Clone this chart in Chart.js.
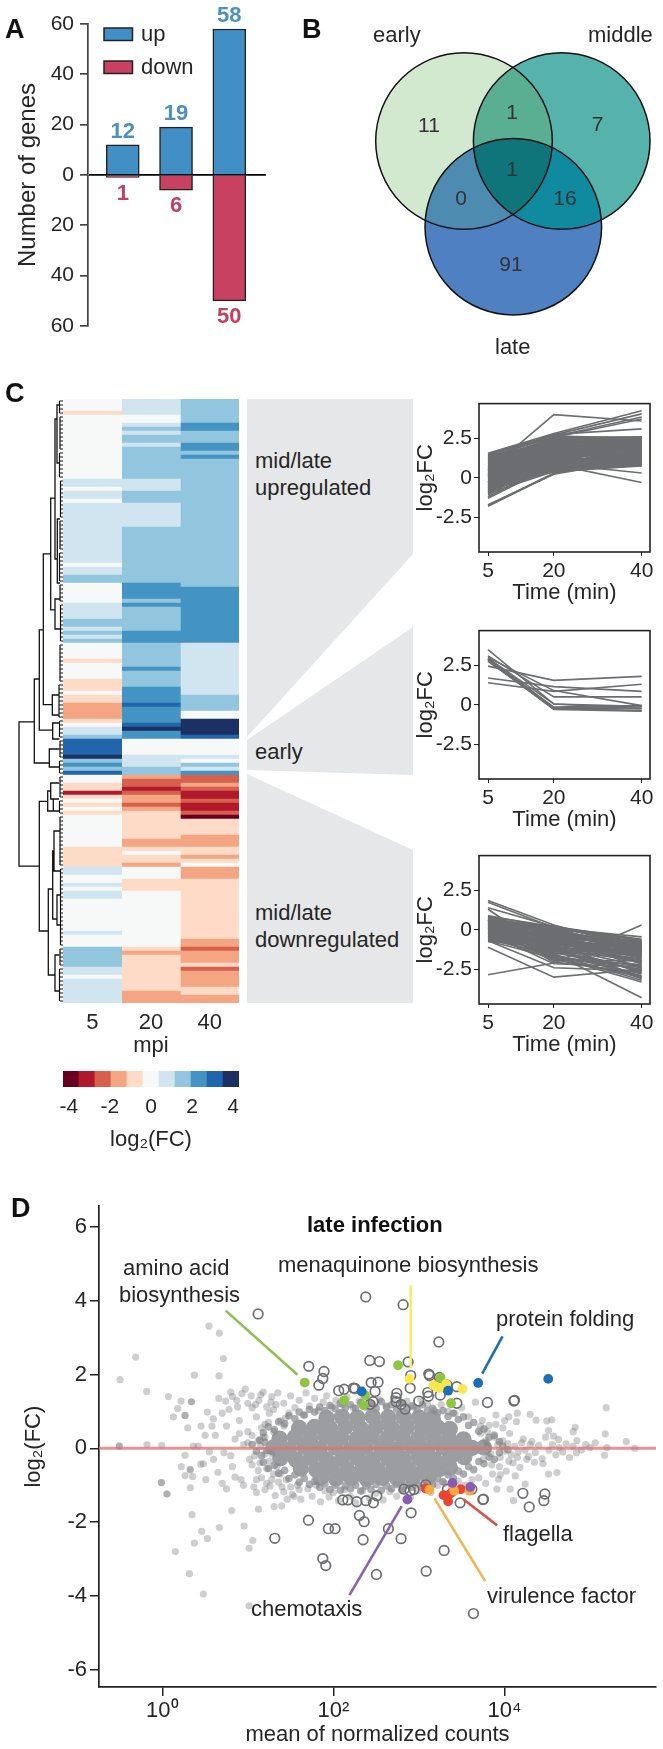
<!DOCTYPE html>
<html>
<head>
<meta charset="utf-8">
<script src="https://cdn.jsdelivr.net/npm/chart.js@4"></script>
<style>
  html, body { margin: 0; background: #fff; }
  #page { position: relative; width: 663px; height: 1749px; overflow: hidden; font-family: "Liberation Sans", Arial, sans-serif; color: #262626; }
  canvas { position: absolute; }
  svg { position: absolute; left: 0; top: 0; }
  .t { position: absolute; white-space: nowrap; font-size: 22px; transform: translateY(-50%); line-height: 1; }
  .p { font-size: 27px; font-weight: bold; color: #111; }
</style>
</head>
<body>
<div id="page">
  <svg width="663" height="1749">
    <polygon fill="#e6e7e8" points="247,399 413,399 413,554 247,737"/>
    <polygon fill="#e6e7e8" points="247,740 413,627 413,775 247,770"/>
    <polygon fill="#e6e7e8" points="247,774 413,850 413,1003 247,1003"/>
  </svg>

  <canvas id="barChart" width="300" height="345" style="left:0;top:0"></canvas>
  <canvas id="venn" width="363" height="370" style="left:300px;top:0"></canvas>
  <canvas id="dendro" width="63" height="604" style="left:0;top:399px"></canvas>
  <canvas id="heat" width="176" height="660" style="left:63px;top:399px"></canvas>
  <canvas id="colorbar" width="200" height="90" style="left:50px;top:1071px"></canvas>
  <canvas id="linesUp" width="253" height="218" style="left:410px;top:389px"></canvas>
  <canvas id="linesEarly" width="253" height="218" style="left:410px;top:616px"></canvas>
  <canvas id="linesDown" width="253" height="218" style="left:410px;top:841px"></canvas>
  <canvas id="ma" width="663" height="559" style="left:0;top:1190px"></canvas>

  <div class="t p" style="left:5px;top:29px">A</div>
  <div class="t p" style="left:302px;top:29px">B</div>
  <div class="t p" style="left:5px;top:393px">C</div>
  <div class="t p" style="left:11px;top:1208px">D</div>

  <svg width="663" height="90" style="pointer-events:none">
    <rect x="104" y="28" width="28.5" height="12.5" fill="#418fc4" stroke="#222" stroke-width="1.5"/>
    <rect x="104" y="61" width="28.5" height="12.5" fill="#c84160" stroke="#222" stroke-width="1.5"/>
  </svg>
  <div class="t" style="left:141px;top:34px">up</div>
  <div class="t" style="left:141px;top:67px">down</div>

  <div class="t" style="left:373px;top:35px">early</div>
  <div class="t" style="left:588px;top:35px">middle</div>
  <div class="t" style="left:495px;top:347px">late</div>

  <div class="t" style="left:255px;top:461px">mid/late</div>
  <div class="t" style="left:255px;top:488px">upregulated</div>
  <div class="t" style="left:255px;top:752px">early</div>
  <div class="t" style="left:255px;top:913px">mid/late</div>
  <div class="t" style="left:255px;top:940px">downregulated</div>

  <div class="t" style="left:307px;top:1225px;font-weight:bold;font-size:22px;color:#111">late infection</div>
  <div class="t" style="left:123px;top:1268px">amino acid</div>
  <div class="t" style="left:119px;top:1295px">biosynthesis</div>
  <div class="t" style="left:278px;top:1265px">menaquinone biosynthesis</div>
  <div class="t" style="left:496px;top:1319px">protein folding</div>
  <div class="t" style="left:503px;top:1534px">flagella</div>
  <div class="t" style="left:487px;top:1596px">virulence factor</div>
  <div class="t" style="left:251px;top:1609px">chemotaxis</div>
</div>

<script>
// Panel A
const barLabels = [0, 1, 2];
const upCounts = [12, 19, 58];
const downCounts = [-1, -6, -50];

// Panel B
const vennNames = ["early", "middle", "late"];
const vennCenters = [[164, 141], [261.7, 141], [213.3, 226.7]];
const vennRadius = [88.3, 88.3, 88.3];
const vennCounts = [11, 1, 7, 1, 0, 16, 91];
const vennCountAt = [[129, 126], [212, 113], [297.7, 125], [212, 170], [161, 199], [265, 199], [211, 265]];

// Panel C heatmap, colour bin per row (-5 .. 5)
const heat5 = [
  0,0,0,-1,0,0,0,0,0,0,
  0,0,0,0,0,0,0,0,0,0,
  1,1,0,1,1,0,1,1,1,1,
  1,1,1,1,1,1,1,1,1,1,
  1,0,1,1,2,2,0,0,0,0,
  0,1,1,1,1,2,2,1,2,1,
  2,0,0,0,0,-1,0,0,0,0,
  -1,-1,-1,0,-1,-1,-2,-2,-2,-2,
  -1,0,1,1,2,4,4,4,4,5,
  2,3,2,4,0,0,-1,-1,-4,-1,
  0,-1,0,-1,0,0,0,0,0,0,
  0,0,-1,-1,-1,-1,-1,1,1,0,
  0,1,0,1,1,0,0,0,0,0,
  0,0,0,1,0,0,0,2,2,2,
  2,2,1,1,0,1,1,1,1,1,
  1
];
const heat20 = [
  1,1,1,1,0,0,1,2,1,2,
  2,1,2,2,2,2,2,2,2,2,
  1,1,1,2,2,2,1,1,1,1,
  1,1,2,2,2,2,2,2,2,2,
  2,2,2,2,2,2,3,3,3,3,
  2,3,2,2,2,2,2,2,3,3,
  3,2,2,2,2,2,2,3,2,2,
  2,2,3,3,3,3,4,3,3,3,
  3,4,5,3,3,0,0,0,0,1,
  1,1,2,2,-2,-3,-3,-4,-3,-2,
  -2,-3,-2,-1,-1,-1,-1,-1,-1,-1,
  -2,-2,-1,0,-1,-1,-2,0,0,0,
  -1,-1,-1,0,0,0,0,0,0,0,
  0,0,0,0,0,0,0,-1,-2,-1,
  -1,-1,-1,-1,-1,-1,-1,-1,-2,-2,
  -2
];
const heat40 = [
  2,2,2,2,2,2,3,3,2,2,
  2,3,3,2,3,2,2,2,2,2,
  2,2,2,2,2,2,2,2,2,2,
  2,2,2,2,2,2,2,2,2,2,
  2,2,2,2,2,2,2,3,3,3,
  3,3,3,3,3,3,3,3,3,3,
  3,1,1,1,1,1,1,1,1,1,
  1,1,1,1,2,2,2,2,0,0,
  5,5,5,5,4,0,0,0,0,1,
  0,2,1,3,-3,-3,-2,-3,-4,-4,
  -3,-4,-4,-3,-5,-1,-1,-1,-1,-2,
  -2,-2,-1,-1,-2,-1,0,-2,-2,-2,
  -1,-1,-1,-1,-1,-1,-1,-1,-1,-1,
  -1,-1,-1,-1,-1,-2,-2,-3,-2,-2,
  -2,-1,-3,-2,-2,-2,-2,-1,-1,-2,
  -2
];
const heatTimes = [5, 20, 40];
const binColors = ["#67001f", "#b2182b", "#d6604d", "#f4a582", "#fddbc7", "#f7f8f8", "#d1e5f0", "#92c5de", "#4393c3", "#2166ac", "#1b3163"];
const colorbarBins = [-3.9, -3.12, -2.34, -1.56, -0.78, 0, 0.78, 1.56, 2.34, 3.12, 3.9];
const colorbarTicks = [-4, -2, 0, 2, 4];

// Dendrogram: [height, top row, bottom row, height of top child, height of bottom child]
const dendroJoins = [
  [19, 80.7, 116.8, 34.3, 39.3],
  [34.3, 70, 91, 39.3, 49.3],
  [39.3, 57.7, 82.8, 43.3, 52.7],
  [43.3, 38.7, 76.4, 50.7, 52.3],
  [50.7, 24.8, 52.7, 55, 55],
  [55, 5, 40, 57, 57.3],
  [57, 1.5, 16, 59.5, 60],
  [57.3, 30, 46, 60, 60],
  [55, 50, 57.5, 60, 60],
  [52.3, 74, 79, 59, 59],
  [52.7, 81, 85, 59.5, 59.5],
  [49.3, 87.5, 92, 59.5, 59.5],
  [39.3, 100.6, 133, 47.7, 48.3],
  [47.7, 98, 103, 50.7, 53.3],
  [50.7, 96, 100, 59, 59],
  [53.3, 100, 103, 59, 59],
  [48.3, 122.5, 144, 52.7, 55],
  [52.7, 113, 130, 54, 57],
  [54, 108, 118, 60, 60],
  [57, 124, 131.5, 60.5, 60.5],
  [55, 139, 148, 59.5, 59.5]
];
// Leaf combs: [height, first row, last row]
const dendroLeaves = [
  [59.5, 0, 3], [60, 4, 12], [59.5, 13, 19], [60.5, 20, 29], [60, 30, 37], [59.5, 38, 45], [60, 46, 50],
  [60.5, 51, 60], [60, 61, 70], [59, 71, 79], [59.5, 80, 84], [60, 85, 89], [59.5, 90, 93], [60, 94, 99],
  [59.5, 100, 103], [60, 104, 116], [60.5, 117, 136], [60, 137, 141], [59.5, 142, 150]
];

// Panel C line plots: [5, 20, 40 min]
const timePoints = [5, 20, 40];
const upLines = [
  [1.55,2.80,4.25],[1.50,2.72,4.05],[1.48,2.62,3.85],[0.45,4.00,3.60],[1.35,2.55,3.72],[1.22,2.75,3.10],
  [-1.80,0.25,2.10],[-1.75,0.30,1.60],[-1.70,0.22,1.20],[-1.30,0.80,1.05],[-1.20,0.88,0.30],[-0.60,0.85,-0.30],
  [-1.05,0.60,0.95],[-0.95,1.00,1.40],[-0.80,0.45,0.85],[-0.65,1.20,1.75],[-0.55,0.70,0.80],[-0.50,1.50,2.05],
  [-0.40,0.95,1.10],[-0.35,1.35,1.55],[-0.25,1.10,2.30],[-0.20,0.50,0.78],[-0.10,1.70,2.15],[-0.05,0.85,1.30],
  [0.00,1.25,1.85],[0.05,1.55,1.45],[0.10,0.40,0.75],[0.12,2.05,2.45],[0.18,1.05,1.05],[0.22,1.80,2.00],
  [0.25,1.35,1.62],[0.30,0.75,0.90],[0.32,2.30,2.55],[0.36,1.60,2.25],[0.40,1.15,1.25],[0.44,1.95,1.75],
  [0.48,0.95,1.50],[0.52,2.15,2.58],[0.55,1.40,1.95],[0.58,1.75,1.15],[0.62,0.60,0.85],[0.65,2.40,2.40],
  [0.68,1.20,1.70],[0.70,1.85,2.10],[0.74,1.50,1.30],[0.78,2.55,2.60],[0.80,1.05,0.95],[0.84,1.65,2.35],
  [0.86,2.25,1.80],[0.90,1.30,1.55],[0.92,1.90,2.50],[0.95,0.80,1.00],[0.98,2.00,1.90],[1.00,1.45,2.20],
  [1.03,2.35,2.05],[1.05,1.10,1.35],[1.08,1.70,1.60],[1.10,2.50,2.45],[1.12,1.55,2.60],[1.15,2.10,1.85],
  [1.18,1.25,1.20],[1.20,1.95,2.30],[1.24,2.45,2.15],[1.28,1.60,1.45],[1.30,2.20,2.55],[1.33,1.85,2.00],
  [1.38,2.30,2.40],[1.42,2.00,1.75],[-0.70,0.65,1.10],[-0.45,1.80,2.40],[-0.30,2.10,2.50],[-0.15,0.35,0.88],
  [-0.85,0.95,1.65],[-0.75,1.35,2.00],[0.15,2.45,2.20],[0.28,0.55,1.15],[0.05,2.20,1.65],[0.60,2.65,2.52],
  [-0.90,0.75,1.20],[-0.82,0.50,1.00],[-0.72,1.05,1.50],[-0.62,0.60,2.20],[-0.52,1.30,0.95],[-0.42,0.75,1.85],
  [-0.32,1.60,1.30],[-0.22,0.90,2.50],[-0.12,1.25,0.85],[-0.02,0.65,1.60],[0.08,1.45,2.40],[0.16,0.70,1.40],
  [0.24,1.90,1.10],[0.34,1.00,2.15],[0.42,2.10,0.95],[0.50,0.85,1.75],[0.56,1.70,2.50],[0.64,1.05,1.25],
  [0.72,2.00,1.50],[0.76,0.70,2.05],[0.82,1.40,0.85],[0.88,2.40,1.95],[0.94,1.15,2.45],[1.02,1.80,1.10],
  [1.06,0.95,1.70],[1.14,2.30,1.30],[1.22,1.35,2.10],[1.26,2.05,0.90],[1.32,1.50,1.85],[1.36,2.60,2.30],
  [1.40,1.75,2.55],[1.45,2.15,1.60],[-1.10,1.25,2.00],[-0.98,0.40,1.55],[-0.88,1.45,0.80],[-0.68,1.75,2.35],
  [-0.48,0.55,1.25],[-0.28,2.35,2.55],[-0.08,1.95,1.00],[0.02,0.50,2.05],[0.14,2.50,1.80],[0.26,0.90,2.35],
  [0.46,2.55,1.35],[0.66,0.50,1.65],[1.10,0.65,2.25]
];
const earlyLines = [
  [2.45,1.55,1.80],[1.70,1.15,0.85],[1.40,0.85,1.30],[3.00,0.90,-0.05],[3.10,0.50,0.50],[3.50,0.05,-0.25],
  [2.95,0.05,-0.10],[2.90,-0.15,-0.05],[2.85,-0.25,-0.35],[2.80,-0.30,-0.40],[2.75,-0.20,-0.10],[2.90,-0.25,-0.20]
];
const downLines = [
  [-2.85,-2.10,0.30],[-1.10,-3.00,-2.50],[-0.70,-2.40,-2.60],[1.85,0.30,-1.20],[1.75,0.15,-1.60],[1.40,0.20,-1.05],
  [1.30,-1.50,-4.30],[0.90,0.10,-0.45],[0.85,-0.45,-0.70],[0.80,-0.05,-1.00],[0.75,-0.90,-1.35],[0.70,0.15,-0.80],
  [0.65,-0.30,-1.15],[0.60,-1.30,-1.90],[0.55,0.05,-0.65],[0.50,-0.70,-1.45],[0.45,-1.10,-2.30],[0.40,-0.20,-0.90],
  [0.35,-0.55,-1.25],[0.30,-1.60,-2.80],[0.25,0.00,-1.10],[0.20,-0.85,-1.70],[0.15,-1.25,-3.10],[0.10,-0.35,-0.75],
  [0.05,-0.65,-1.55],[0.00,-1.00,-2.10],[-0.05,-0.15,-1.20],[-0.10,-1.45,-2.55],[-0.15,-0.50,-0.95],[-0.20,-1.70,-3.30],
  [-0.25,-0.80,-1.65],[-0.30,-1.20,-2.00],[-0.35,-0.25,-1.30],[-0.40,-1.90,-2.90],[-0.45,-0.95,-1.10],[-0.50,-1.35,-2.40],
  [-0.55,-0.60,-1.50],[-0.60,-1.55,-3.20],[-0.65,-1.05,-1.85],[-0.70,-1.80,-2.25],[-0.75,-0.75,-1.40],[0.48,-1.75,-3.00],
  [0.28,-2.05,-2.70],[0.62,-1.95,-1.95],[-0.22,-2.15,-2.35],[0.12,0.25,-1.00],[0.38,0.10,-1.35],
  [0.85,0.20,-0.70],[0.78,-0.15,-0.95],[0.72,-0.35,-1.00],[0.66,-0.60,-1.25],[0.58,-0.10,-1.10],[0.52,-0.85,-1.10],
  [0.46,-0.40,-0.85],[0.42,0.20,-0.90],[0.36,-0.95,-1.60],[0.32,-0.15,-1.45],[0.27,-0.45,-0.80],[0.22,-1.15,-1.35],
  [0.17,-0.30,-1.75],[0.13,-0.70,-1.05],[0.08,0.05,-1.25],[0.03,-0.55,-2.15],[-0.02,-0.90,-1.15],[-0.08,-0.25,-2.45],
  [-0.12,-1.30,-1.30],[-0.18,-0.70,-1.80],[-0.24,-0.10,-0.85],[-0.28,-1.05,-2.70],[-0.33,-0.45,-1.05],[-0.38,-1.50,-1.55],
  [-0.43,-0.75,-2.05],[-0.48,-1.15,-1.20],[-0.53,-0.35,-1.65],[-0.58,-1.65,-2.50],[-0.63,-0.85,-1.00],[-0.68,-1.25,-2.95],
  [-0.73,-0.50,-1.35],[0.55,-1.00,-0.95],[0.35,-1.30,-2.60],[0.20,-1.50,-1.15],[0.70,-0.60,-2.00],[0.10,-1.85,-2.20],
  [-0.05,-1.40,-0.90],[0.40,-0.75,-3.05],[0.60,-0.25,-0.75],[0.15,0.20,-0.60]
];
const plotTicksY = [-2.5, 0, 2.5];

// Panel D: [log10 mean count, log2FC]
const maCore = [
  [1.30,0.02],[1.48,-0.03],[1.66,0.04],[1.84,-0.02],[2.02,0.03],[2.20,-0.04],[2.38,0.02],[2.56,0.00],[2.74,-0.03],[2.92,0.04],[3.10,-0.02],[3.28,0.03],[3.46,-0.02],[3.62,0.01],[3.76,0.02],
  [1.37,0.26],[1.55,0.30],[1.73,0.27],[1.91,0.31],[2.09,0.28],[2.27,0.25],[2.45,0.30],[2.63,0.27],[2.81,0.29],[2.99,0.26],[3.17,0.30],[3.35,0.27],[3.52,0.24],
  [1.38,-0.27],[1.56,-0.30],[1.74,-0.26],[1.92,-0.31],[2.10,-0.28],[2.28,-0.25],[2.46,-0.30],[2.64,-0.27],[2.82,-0.29],[3.00,-0.26],[3.18,-0.30],[3.36,-0.27],[3.53,-0.24],
  [1.60,0.55],[1.78,0.58],[1.96,0.55],[2.14,0.57],[2.32,0.54],[2.50,0.58],[2.68,0.56],[2.86,0.57],[3.04,0.54],[3.22,0.56],[3.36,0.52],
  [1.62,-0.55],[1.80,-0.58],[1.98,-0.55],[2.16,-0.57],[2.34,-0.54],[2.52,-0.58],[2.70,-0.56],[2.88,-0.57],[3.06,-0.54],[3.24,-0.56],[3.36,-0.52],
  [1.92,0.82],[2.10,0.85],[2.28,0.83],[2.46,0.86],[2.64,0.84],[2.82,0.85],[3.00,0.83],[3.16,0.80],
  [1.85,-0.80],[2.03,-0.82],[2.21,-0.80],[2.39,-0.83],[2.57,-0.80],[2.75,-0.82],[2.93,-0.80],[3.11,-0.78]
];
const maEdge = [
  [1.18,0.42],[1.24,0.58],[1.31,0.50],[1.36,0.72],[1.43,0.66],[1.48,0.88],[1.55,0.80],[1.60,0.98],[1.66,0.90],[1.72,1.05],[1.78,0.98],[1.84,1.12],[1.90,1.02],[1.96,1.16],[2.02,1.08],[2.08,1.22],[2.14,1.10],[2.20,1.18],[2.26,1.08],[2.32,1.24],[2.38,1.12],[2.44,1.20],[2.50,1.08],[2.56,1.26],
  [2.62,1.12],[2.68,1.18],[2.74,1.06],[2.80,1.22],[2.86,1.10],[2.92,1.15],[2.98,1.04],[3.04,1.18],[3.10,1.02],[3.16,1.08],[3.22,0.96],[3.28,1.02],[3.34,0.86],[3.40,0.95],[3.46,0.78],[3.52,0.85],[3.58,0.62],[3.64,0.70],[3.70,0.46],[3.76,0.52],[3.82,0.30],[3.88,0.35],[3.94,0.18],
  [1.18,-0.38],[1.24,-0.55],[1.31,-0.46],[1.36,-0.68],[1.43,-0.60],[1.48,-0.82],[1.55,-0.72],[1.60,-0.92],[1.66,-0.82],[1.72,-0.98],[1.78,-0.90],[1.84,-1.06],[1.90,-0.96],[1.96,-1.12],[2.02,-1.00],[2.08,-1.14],[2.14,-1.02],[2.20,-1.10],[2.26,-1.00],[2.32,-1.16],[2.38,-1.02],[2.44,-1.12],[2.50,-0.98],[2.56,-1.14],
  [2.62,-1.02],[2.68,-1.10],[2.74,-0.98],[2.80,-1.14],[2.86,-1.00],[2.92,-1.06],[2.98,-0.96],[3.04,-1.06],[3.10,-0.90],[3.16,-0.98],[3.22,-0.82],[3.28,-0.90],[3.34,-0.72],[3.40,-0.80],[3.46,-0.62],[3.52,-0.70],[3.58,-0.50],[3.64,-0.58],[3.70,-0.36],[3.76,-0.42],[3.82,-0.24],[3.88,-0.30],[3.94,-0.12],
  [1.05,0.10],[1.10,-0.08],[1.14,0.22],[1.16,-0.20],[3.98,0.05],[4.04,-0.04],[1.20,0.16],[1.22,-0.06]
];
const maGrey = [
  [0.546,3.31],[0.667,3.12],[-0.311,2.47],[0.714,2.43],[-0.494,1.86],[0.375,1.98],[0.663,1.96],[-0.183,1.54],[0.071,1.40],[0.219,1.28],[0.34,1.26],[0.34,1.26],
  [0.18,1.08],[0.13,0.85],[0.266,0.89],[0.266,0.89],[0.297,0.55],[0.453,0.60],[0.527,0.98],[0.597,0.80],[-0.502,0.06],[-0.502,0.06],[-0.179,0.10],[-0.007,0.08],[0.363,0.06],[0.42,0.06],
  [0.266,-0.19],[0.223,-0.50],[0.324,-0.57],[0.328,-0.59],[0.266,-0.74],[0.355,-0.77],[0.449,-0.43],[0.508,-0.85],[-0.011,-0.93],[-0.011,-0.93],[0.328,-1.07],[0.055,-1.24],[0.055,-1.24],
  [0.348,-1.80],[0.812,-1.69],[1.124,-1.65],[1.307,-1.58],[1.396,-1.56],[0.667,-2.15],[0.956,-2.11],[0.461,-2.25],[0.527,-2.45],[0.375,-2.57],[1.057,-2.50],[1.014,-2.71],[0.153,-2.80],[0.317,-3.40],[0.48,-3.95],[1.014,-4.27],
  [5.189,1.10],[5.177,0.39],[5.423,0.18],[5.524,0.00],[5.197,0.02],[5.17,-0.19],[4.827,0.57],[4.803,0.45],[4.3,0.92],[4.37,0.76],[4.495,0.74],[4.554,0.77],[4.515,0.48],[4.573,0.33],[4.632,0.24],[4.846,0.21],[5.06,0.15],[5.0,0.02],
  [4.612,-0.66],[4.515,-0.70],[4.242,-0.97],[4.066,-1.11],[4.105,-1.42],[3.91,-1.11],[3.93,-0.84],[4.125,-0.75],
  [0.62,0.35],[0.66,1.35],[0.70,0.95],[0.72,-0.12],[0.75,0.60],[0.78,1.05],[0.80,1.52],[0.82,-0.50],[0.85,0.25],[0.87,1.30],[0.90,0.75],[0.92,-0.85],[0.95,0.10],[0.97,1.60],[1.00,0.45],[1.02,-0.30],[1.05,1.10],[1.07,-1.05],[1.10,0.85],[1.12,-0.60],[1.15,1.45],[1.18,0.30],[1.20,-0.15],[1.22,-0.95],[1.25,0.95],[1.27,1.25],[1.30,-0.70],
  [0.65,-0.65],[0.70,-0.95],[0.75,-1.10],[0.80,-0.20],[0.85,-0.78],[0.90,0.40],[0.95,-1.00],[1.00,0.15],[1.05,-0.45],[1.10,-0.85],[1.15,0.05],[1.20,0.65],[1.25,-0.35],[0.50,0.35],[0.55,-0.10],[0.58,0.60],[0.60,-0.30],[0.48,-0.42],
  [1.30,1.05],[1.35,1.50],[1.38,0.75],[1.40,-1.05],[1.42,1.22],[1.45,-0.85],[1.48,0.95],[1.50,1.42],[1.52,-1.25],[1.55,1.10],[1.58,-1.00],[1.60,1.30],[1.62,-1.38],[1.65,0.90],[1.68,1.50],[1.70,-1.10],[1.72,1.15],[1.75,-1.30],[1.78,1.35],[1.80,-1.00],[1.82,1.02],[1.85,-1.45],[1.88,1.25],[1.90,-1.15],[1.92,1.42],[1.95,-1.32],[1.98,1.12],
  [2.00,-1.20],[2.03,1.30],[2.06,-1.42],[2.10,1.18],[2.13,-1.12],[2.16,1.38],[2.20,-1.30],[2.23,1.10],[2.26,-1.48],[2.30,1.28],[2.34,-1.15],[2.38,1.40],[2.42,-1.35],[2.46,1.20],[2.50,-1.22],[2.54,1.32],[2.58,-1.40],[2.62,1.15],[2.66,-1.18],[2.70,1.35],[2.74,-1.30],[2.78,1.20],[2.82,-1.10],[2.86,1.28],[2.90,-1.32],[2.94,1.12],[2.98,-1.15],
  [3.02,1.32],[3.06,-1.02],[3.10,1.20],[3.14,-1.20],[3.18,1.02],[3.22,-1.00],[3.26,1.18],[3.30,-0.95],[3.34,1.00],[3.38,-1.05],[3.42,0.95],[3.46,-0.90],[3.50,1.10],[3.54,-1.00],[3.58,0.85],[3.62,-0.85],[3.66,1.25],[3.70,-0.80],[3.74,0.75],[3.78,-0.95],[3.82,0.62],[3.86,-0.70],[3.90,0.90],[3.94,-0.50],[3.98,0.55],[4.02,-0.62],[4.06,0.40],[4.10,-0.40],[4.14,0.72],[4.18,-0.52],[4.22,0.25],[4.26,-0.30],[4.30,0.10],
  [3.72,0.40],[3.75,-0.30],[3.78,0.20],[3.80,0.05],[3.84,-0.15],[3.88,0.30],[3.92,0.10],[3.95,-0.25],[3.98,0.20],[4.00,-0.08],[4.04,0.12],[4.08,-0.18],[4.12,0.05],[4.16,-0.10],[4.20,0.15],[4.24,-0.05],[4.28,-0.22],[4.32,0.18],[4.36,-0.12],[4.40,0.08],[4.44,-0.28],[4.48,0.30],[4.52,-0.05],[4.56,0.10],[4.60,-0.18],[4.64,0.02],[4.68,-0.10],[4.72,0.12],[4.76,-0.25],[4.80,0.05],[4.84,-0.12],[4.90,-0.05],[4.95,0.10],
  [3.72,0.60],[3.80,0.45],[3.90,0.65],[4.00,0.75],[4.05,0.85],[4.15,0.95],[3.85,-0.45],[3.95,-0.72],[4.05,-0.35],[4.15,-0.25],[4.35,-0.38],[4.45,-0.42],
  [1.12,0.20],[1.16,0.55],[1.20,0.30],[1.24,0.70],[1.28,-0.15],[1.30,0.45],[1.34,-0.50],[1.38,-0.70],[1.42,0.60],[1.44,0.82],[1.08,-0.20],[1.05,0.35],[1.14,-0.40],[1.22,-0.55],[1.28,-0.85],
  [0.74,1.28],[0.82,1.40],[0.88,1.12],[0.93,1.48],[1.00,1.22],[1.04,1.42],[1.09,1.18],[1.13,1.30],[1.18,1.52],[1.22,1.12],[1.28,1.40],[1.33,1.18],
  [1.10,-1.20],[1.16,-0.80],[1.20,-1.12],[1.26,-1.02],[1.32,-1.28],[1.36,-0.92],[1.42,-1.18],[1.46,-1.38],[1.50,-1.05],[1.54,-1.30],[1.60,-1.12]
];
const maOpen = [
  [1.12,3.64],[1.712,2.22],[1.89,2.08],[1.876,1.89],[1.83,1.71],[2.378,4.10],[2.815,3.89],[3.232,2.88],[2.425,2.38],[2.538,2.35],[2.873,2.34],[2.904,1.97],[3.115,2.01],[3.123,1.97],[3.24,1.92],[3.326,1.72],[3.443,1.67],
  [2.062,1.56],[2.125,1.60],[2.234,1.63],[2.253,1.62],[2.441,1.78],[2.522,1.79],[2.487,1.54],[2.897,1.63],[2.741,1.49],[2.733,1.37],[2.733,1.26],[2.791,1.19],[2.838,1.06],[2.464,1.26],[2.429,1.19],[2.998,1.28],[3.103,1.51],[3.111,1.41],[3.248,1.44],[3.443,1.22],[3.801,1.24],[4.109,1.28],[4.117,1.30],
  [1.708,-1.95],[1.942,-2.18],[1.315,-2.44],[1.876,-2.99],[1.911,-3.18],[2.02,-2.18],[2.109,-1.40],[2.168,-1.40],[2.273,-1.45],[2.382,-1.42],[2.468,-1.48],[2.507,-1.29],[2.304,-1.82],[2.359,-1.99],[2.347,-2.48],[2.643,-2.18],[2.791,-2.45],[2.908,-1.75],[2.503,-3.42],[3.084,-3.33],[3.294,-2.77],[3.637,-4.48],
  [2.827,-1.11],[2.897,-1.15],[2.943,-1.12],[3.08,-0.99],[3.333,-1.11],[3.618,-1.11],[3.481,-1.48],[3.747,-1.39],[3.754,-1.38],[4.215,-1.22],[4.472,-1.24],[4.46,-1.42],[4.289,-1.59]
];
const maAmino = [[1.665,1.78],[2.756,2.25],[3.252,1.91],[2.125,1.30],[2.351,1.17],[2.37,1.44],[3.376,1.22]];
const maQuinone = [[2.889,1.88],[3.17,1.71],[3.24,1.63],[3.318,1.74],[3.509,1.61],[3.2,1.67]];
const maFolding = [[3.692,1.77],[4.511,1.88],[2.331,1.54],[3.341,1.56]];
const maFlagella = [[3.08,-1.09],[3.287,-1.27],[3.341,-1.44],[3.489,-1.11],[3.384,-1.20],[3.345,-1.27]];
const maVirulence = [[3.123,-1.12],[3.411,-1.15],[3.591,-1.15]];
const maChemotaxis = [[2.865,-1.39],[3.392,-0.94],[3.6,-1.05]];
const maLeaders = [
  { color: "#8cc152", ends: [[0.741,3.73],[1.58,1.99]] },
  { color: "#fce96a", ends: [[2.904,4.42],[2.904,2.17]] },
  { color: "#1f6fb0", ends: [[3.977,3.03],[3.739,2.02]] },
  { color: "#8a63ad", ends: [[2.187,-3.98],[2.799,-1.57]] },
  { color: "#f3b553", ends: [[3.774,-3.60],[3.181,-1.36]] },
  { color: "#d9534a", ends: [[3.914,-2.09],[3.52,-1.38]] }
];
const maTicksY = [-6, -4, -2, 0, 2, 4, 6];
const maTicksX = { 1: "10⁰", 100: "10²", 10000: "10⁴" };

Chart.defaults.font.family = '"Liberation Sans", Arial, sans-serif';
Chart.defaults.color = "#262626";
Chart.defaults.animation = false;
Chart.defaults.responsive = false;
Chart.defaults.layout.autoPadding = false;
Chart.defaults.plugins.legend.display = false;
Chart.defaults.plugins.tooltip.enabled = false;

const inkDark = "#222";

// Panel A
const countLabels = {
  id: "countLabels",
  afterDatasetsDraw(chart) {
    const ctx = chart.ctx;
    ctx.save();
    ctx.font = 'bold 22px "Liberation Sans", Arial, sans-serif';
    ctx.textAlign = "center";
    ctx.textBaseline = "middle";
    chart.data.datasets.forEach((ds, d) => {
      chart.getDatasetMeta(d).data.forEach((bar, i) => {
        const v = ds.data[i].y;
        ctx.fillStyle = v > 0 ? "#4a90c2" : "#c4405f";
        ctx.fillText(Math.abs(v), bar.x, v > 0 ? bar.y - 13 : bar.y + 16);
      });
    });
    ctx.restore();
  }
};
new Chart(document.getElementById("barChart"), {
  type: "bar",
  plugins: [countLabels],
  data: {
    datasets: [
      { data: barLabels.map((x, i) => ({ x: x, y: upCounts[i] })), backgroundColor: "#418fc4", borderColor: inkDark, borderWidth: 1.5 },
      { data: barLabels.map((x, i) => ({ x: x, y: downCounts[i] })), backgroundColor: "#c84160", borderColor: inkDark, borderWidth: 1.5 }
    ]
  },
  options: {
    layout: { padding: { top: 24, right: 34, bottom: 19 } },
    barThickness: 33,
    scales: {
      x: { type: "linear", display: false, offset: false, min: -0.652, max: 2.688, stacked: true },
      y: {
        min: -60, max: 60, stacked: true,
        afterFit: s => { s.width = 88; },
        ticks: { stepSize: 20, callback: v => Math.abs(v), font: { size: 21 }, padding: 6, color: "#262626" },
        grid: { color: c => c.tick.value === 0 ? "#000" : "transparent", lineWidth: 1.7, tickColor: "#444", tickLength: 8 },
        border: { color: "#444", width: 1.7 },
        title: { display: true, text: "Number of genes", font: { size: 24 }, padding: { top: 14, bottom: 0 } }
      }
    }
  }
});

// Panel B
const vennOverlaps = {
  id: "vennOverlaps",
  afterDatasetsDraw(chart) {
    const ctx = chart.ctx;
    const pts = chart.getDatasetMeta(0).data;
    const circle = i => { ctx.beginPath(); ctx.arc(pts[i].x, pts[i].y, vennRadius[i], 0, Math.PI * 2); };
    [[[0, 1], "#5aae91"], [[0, 2], "#4e8bb0"], [[1, 2], "#0f8a9e"], [[0, 1, 2], "#10757a"]].forEach(o => {
      ctx.save();
      o[0].forEach(i => { circle(i); ctx.clip(); });
      ctx.fillStyle = o[1];
      ctx.fillRect(0, 0, chart.width, chart.height);
      ctx.restore();
    });
    ctx.strokeStyle = "#111";
    ctx.lineWidth = 1.5;
    pts.forEach((p, i) => { circle(i); ctx.stroke(); });
    ctx.fillStyle = "#333";
    ctx.font = '21px "Liberation Sans", Arial, sans-serif';
    ctx.textAlign = "center";
    ctx.textBaseline = "middle";
    vennCounts.forEach((n, i) => {
      ctx.fillText(n, chart.scales.x.getPixelForValue(vennCountAt[i][0]), chart.scales.y.getPixelForValue(vennCountAt[i][1]));
    });
  }
};
new Chart(document.getElementById("venn"), {
  type: "bubble",
  plugins: [vennOverlaps],
  data: {
    labels: vennNames,
    datasets: [{
      data: vennCenters.map((c, i) => ({ x: c[0], y: c[1], r: vennRadius[i] })),
      backgroundColor: ["#d3e9cf", "#56b3ab", "#4f81c2"],
      borderWidth: 0
    }]
  },
  options: {
    clip: false,
    scales: {
      x: { display: false, min: 0, max: 363 },
      y: { display: false, min: 0, max: 370, reverse: true }
    }
  }
});

// Panel C dendrogram
const dendroPath = [];
dendroJoins.forEach(j => {
  dendroPath.push({ x: j[3], y: j[1] }, { x: j[0], y: j[1] }, { x: j[0], y: j[2] }, { x: j[4], y: j[2] }, { x: null, y: null });
});
const leafPath = [];
dendroLeaves.forEach(g => {
  leafPath.push({ x: g[0], y: g[1] + 0.5 }, { x: g[0], y: g[2] + 0.5 }, { x: null, y: null });
  for (let row = g[1]; row <= g[2]; row++) {
    leafPath.push({ x: g[0], y: row + 0.5 }, { x: 63, y: row + 0.5 }, { x: null, y: null });
  }
});
new Chart(document.getElementById("dendro"), {
  type: "scatter",
  data: {
    datasets: [
      { data: dendroPath, showLine: true, spanGaps: false, pointRadius: 0, borderColor: "#111", borderWidth: 1.3 },
      { data: leafPath, showLine: true, spanGaps: false, pointRadius: 0, borderColor: "#111", borderWidth: 1.2 }
    ]
  },
  options: {
    scales: {
      x: { display: false, min: 0, max: 63 },
      y: { display: false, min: 0, max: heat5.length, reverse: true }
    }
  }
});

// Panel C heatmap
const binColor = b => binColors[b + 5];
const heatSeries = [heat5, heat20, heat40];
new Chart(document.getElementById("heat"), {
  type: "bar",
  data: {
    labels: heat5.map((_, i) => i),
    datasets: heatSeries.map(col => ({
      data: col.map(() => 1),
      backgroundColor: col.map(binColor),
      borderWidth: 0,
      barPercentage: 1,
      categoryPercentage: 1
    }))
  },
  options: {
    indexAxis: "y",
    scales: {
      y: { display: false, stacked: true },
      x: {
        type: "linear", stacked: true, min: 0, max: 3,
        afterFit: s => { s.height = 56; },
        afterBuildTicks: s => { s.ticks = heatTimes.map((_, i) => ({ value: i + 0.5 })); },
        ticks: { autoSkip: false, maxRotation: 0, callback: v => heatTimes[v - 0.5], font: { size: 22 }, padding: 7 },
        grid: { display: false, drawTicks: false },
        border: { display: false },
        title: { display: true, text: "mpi", font: { size: 22 }, padding: { bottom: 0 } }
      }
    }
  }
});

// Panel C colour bar
new Chart(document.getElementById("colorbar"), {
  type: "bar",
  data: {
    datasets: [{
      data: colorbarBins.map(b => ({ x: b, y: 1 })),
      backgroundColor: binColors,
      borderWidth: 0,
      barPercentage: 1,
      categoryPercentage: 1
    }]
  },
  options: {
    layout: { padding: { left: 13, right: 11 } },
    scales: {
      x: {
        type: "linear", offset: false, min: -4.286, max: 4.286,
        afterFit: s => { s.height = 74; },
        afterBuildTicks: s => { s.ticks = colorbarTicks.map(v => ({ value: v })); },
        ticks: { autoSkip: false, maxRotation: 0, font: { size: 21 }, padding: 8, callback: v => v },
        grid: { display: false, drawTicks: false },
        border: { display: false },
        title: { display: true, text: "log₂(FC)", font: { size: 22 }, padding: { bottom: 8 } }
      },
      y: { display: false, min: 0, max: 1 }
    }
  }
});

// Panel C line plots
const frame = {
  id: "frame",
  afterDatasetsDraw(chart) {
    const a = chart.chartArea;
    chart.ctx.save();
    chart.ctx.strokeStyle = "#222";
    chart.ctx.lineWidth = 1.6;
    chart.ctx.strokeRect(a.left, a.top, a.width, a.height);
    chart.ctx.restore();
  }
};
function linePlot(id, lines) {
  return new Chart(document.getElementById(id), {
    type: "scatter",
    plugins: [frame],
    data: {
      datasets: lines.map(l => ({
        data: timePoints.map((t, i) => ({ x: t, y: l[i] })),
        showLine: true, pointRadius: 0, borderColor: "#6d6e71", borderWidth: 1.6
      }))
    },
    options: {
      layout: { padding: { top: 10, right: 13 } },
      scales: {
        x: {
          type: "linear", min: 2.95, max: 41.9,
          afterFit: s => { s.height = 55; },
          afterBuildTicks: s => { s.ticks = timePoints.map(v => ({ value: v })); },
          ticks: { autoSkip: false, maxRotation: 0, font: { size: 21 }, padding: 3, callback: v => v },
          grid: { drawOnChartArea: false, tickColor: inkDark, tickLength: 4 },
          border: { display: false },
          title: { display: true, text: "Time (min)", font: { size: 22 }, padding: { bottom: 1 } }
        },
        y: {
          min: -4.7, max: 4.7,
          afterFit: s => { s.width = 69; },
          afterBuildTicks: s => { s.ticks = plotTicksY.map(v => ({ value: v })); },
          ticks: { autoSkip: false, font: { size: 21 }, padding: 2, callback: v => v },
          grid: { drawOnChartArea: false, tickColor: inkDark, tickLength: 5 },
          border: { display: false },
          title: { display: true, text: "log₂FC", font: { size: 22 }, padding: { top: 3, bottom: 0 } }
        }
      }
    }
  });
}
linePlot("linesUp", upLines);
linePlot("linesEarly", earlyLines);
linePlot("linesDown", downLines);

// Panel D
const toPoints = list => list.map(p => ({ x: Math.pow(10, p[0]), y: p[1] }));
const dots = (list, color) => ({ data: toPoints(list), pointRadius: 4.9, pointBackgroundColor: color, pointBorderWidth: 0 });
new Chart(document.getElementById("ma"), {
  type: "scatter",
  data: {
    datasets: [
      dots(maChemotaxis, "#8a5bb0"),
      dots(maVirulence, "#f7a93b"),
      dots(maFlagella, "#ea4435"),
      dots(maFolding, "#1a6fb8"),
      dots(maQuinone, "#fbe64d"),
      dots(maAmino, "#8dc63f"),
      ...maLeaders.map(l => ({ data: toPoints(l.ends), showLine: true, pointRadius: 0, borderColor: l.color, borderWidth: 2.6 })),
      { data: toPoints(maOpen), pointRadius: 4.8, pointBackgroundColor: "transparent", pointBorderColor: "#6d6e71", pointBorderWidth: 1.7 },
      { data: [{ x: 0.182, y: 0 }, { x: 590000, y: 0 }], showLine: true, pointRadius: 0, borderColor: "rgba(226,112,108,0.75)", borderWidth: 3 },
      { data: toPoints(maGrey), pointRadius: 3.6, pointBackgroundColor: "rgba(120,120,125,0.36)", pointBorderWidth: 0 },
      { data: toPoints(maEdge), pointRadius: 3.8, pointBackgroundColor: "rgba(150,151,155,0.8)", pointBorderWidth: 0 },
      { data: toPoints(maCore), pointRadius: 8.2, pointBackgroundColor: "#9c9da0", pointBorderWidth: 0 }
    ]
  },
  options: {
    layout: { padding: { top: 14, right: 7 } },
    scales: {
      x: {
        type: "logarithmic", min: 0.182, max: 590000,
        afterFit: s => { s.height = 62; },
        afterBuildTicks: s => { s.ticks = Object.keys(maTicksX).map(v => ({ value: Number(v) })); },
        ticks: { autoSkip: false, maxRotation: 0, font: { size: 22 }, padding: 2, callback: v => maTicksX[v] },
        grid: { drawOnChartArea: false, tickColor: inkDark, tickLength: 9, lineWidth: 1.5 },
        border: { color: inkDark, width: 1.7 },
        title: { display: true, text: "mean of normalized counts", font: { size: 22 }, padding: { bottom: 1 } }
      },
      y: {
        min: -6.47, max: 6.56,
        afterFit: s => { s.width = 99; },
        afterBuildTicks: s => { s.ticks = maTicksY.map(v => ({ value: v })); },
        ticks: { autoSkip: false, font: { size: 22 }, padding: 3, callback: v => v },
        grid: { drawOnChartArea: false, tickColor: inkDark, tickLength: 9, lineWidth: 1.5 },
        border: { color: inkDark, width: 1.7 },
        title: { display: true, text: "log₂(FC)", font: { size: 22 }, padding: { top: 21, bottom: 0 } }
      }
    }
  }
});
</script>
</body>
</html>
